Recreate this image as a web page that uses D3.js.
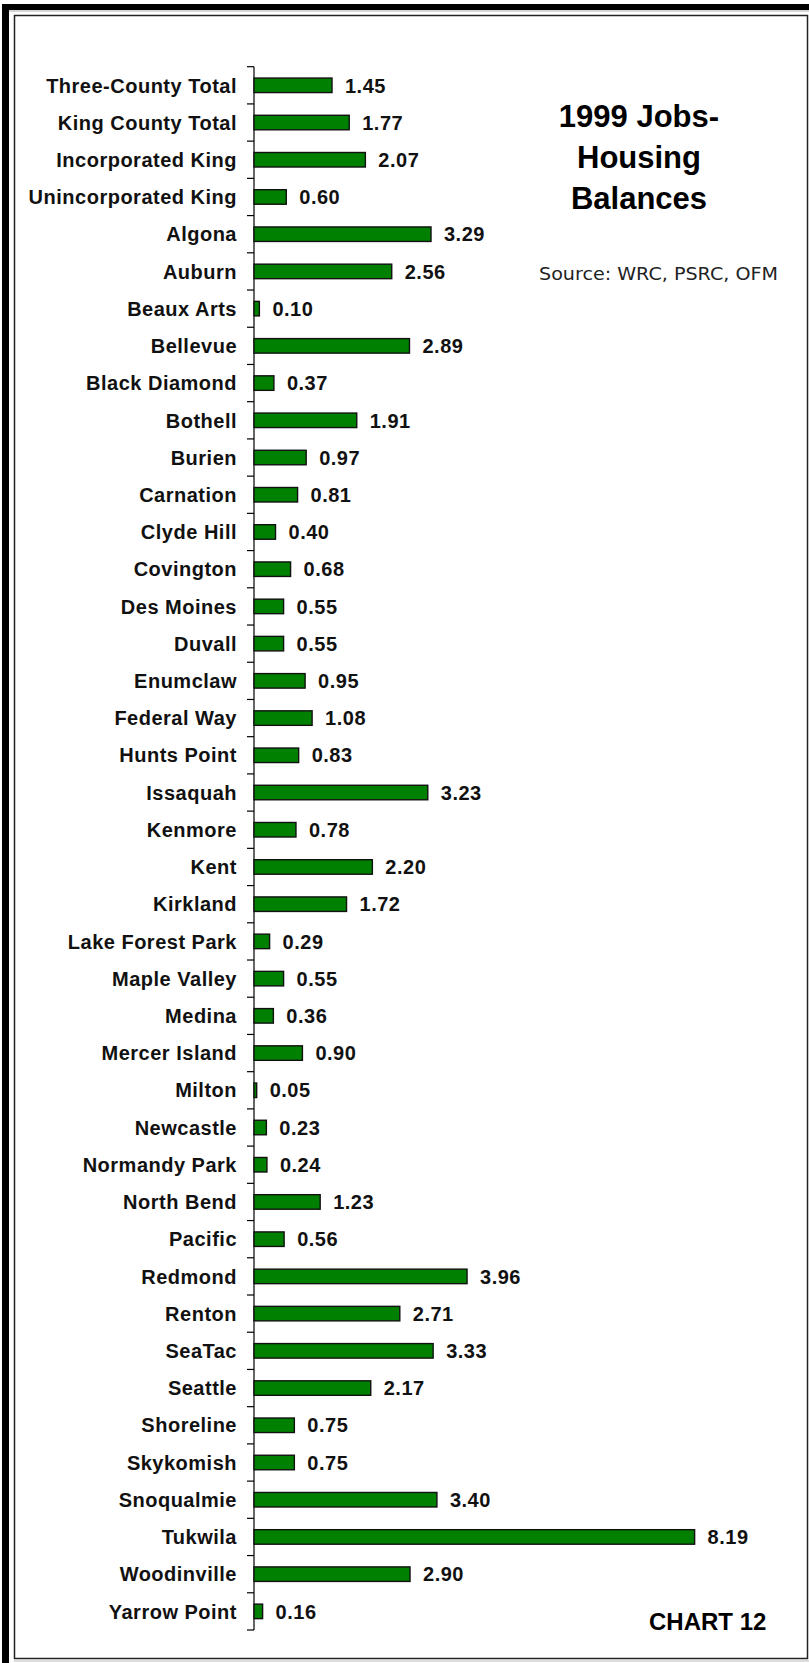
<!DOCTYPE html>
<html>
<head>
<meta charset="utf-8">
<script src="https://cdn.jsdelivr.net/npm/d3@7"></script>
<style>
  html, body { margin: 0; padding: 0; background: #fff; }
  svg { display: block; }
</style>
</head>
<body>
<script>
const categories = [
  "Three-County Total", "King County Total", "Incorporated King", "Unincorporated King",
  "Algona", "Auburn", "Beaux Arts", "Bellevue", "Black Diamond", "Bothell", "Burien",
  "Carnation", "Clyde Hill", "Covington", "Des Moines", "Duvall", "Enumclaw",
  "Federal Way", "Hunts Point", "Issaquah", "Kenmore", "Kent", "Kirkland",
  "Lake Forest Park", "Maple Valley", "Medina", "Mercer Island", "Milton", "Newcastle",
  "Normandy Park", "North Bend", "Pacific", "Redmond", "Renton", "SeaTac", "Seattle",
  "Shoreline", "Skykomish", "Snoqualmie", "Tukwila", "Woodinville", "Yarrow Point"
];
const values = [
  1.45, 1.77, 2.07, 0.60,
  3.29, 2.56, 0.10, 2.89, 0.37, 1.91, 0.97,
  0.81, 0.40, 0.68, 0.55, 0.55, 0.95,
  1.08, 0.83, 3.23, 0.78, 2.20, 1.72,
  0.29, 0.55, 0.36, 0.90, 0.05, 0.23,
  0.24, 1.23, 0.56, 3.96, 2.71, 3.33, 2.17,
  0.75, 0.75, 3.40, 8.19, 2.90, 0.16
];
const titleLines = ["1999 Jobs-", "Housing", "Balances"];
const sourceText = "Source: WRC, PSRC, OFM";
const chartLabel = "CHART 12";

const W = 809, H = 1663;
const data = categories.map((c, i) => ({ name: c, value: values[i] }));

const svg = d3.select("body").append("svg")
  .attr("width", W).attr("height", H);

// frame
svg.append("rect").attr("x", 0).attr("y", 0).attr("width", W).attr("height", H).attr("fill", "#fff");
svg.append("rect").attr("x", 2).attr("y", 4).attr("width", W - 2).attr("height", 6).attr("fill", "#000");
svg.append("rect").attr("x", 2).attr("y", 4).attr("width", 7).attr("height", H - 4).attr("fill", "#000");
svg.append("line").attr("x1", 9).attr("x2", W).attr("y1", 11).attr("y2", 11).attr("stroke", "#aaa").attr("stroke-width", 1);
svg.append("rect").attr("x", 14.5).attr("y", 15.5).attr("width", 793).attr("height", 1643)
  .attr("fill", "none").attr("stroke", "#222").attr("stroke-width", 1.5);
svg.append("line").attr("x1", 14).attr("x2", W).attr("y1", 1661).attr("y2", 1661).attr("stroke", "#bbb").attr("stroke-width", 1);

const axisX = 254;
const x = d3.scaleLinear().domain([0, 9]).range([axisX, axisX + 9 * 53.8]);
const y = d3.scaleBand().domain(categories).range([66.7, 1630]).paddingInner(0.61).paddingOuter(0.305);

const font = "'Liberation Sans', Arial, Helvetica, sans-serif";

// axis
const bandStep = y.step();
const axisG = svg.append("g");
axisG.append("line").attr("x1", axisX).attr("x2", axisX).attr("y1", 66.7).attr("y2", 1630)
  .attr("stroke", "#000").attr("stroke-width", 1.2);
const boundaries = d3.range(categories.length + 1).map(i => 66.7 + i * (1630 - 66.7) / categories.length);
axisG.selectAll("line.tick").data(boundaries).join("line").attr("class", "tick")
  .attr("x1", axisX - 7).attr("x2", axisX).attr("y1", d => d).attr("y2", d => d)
  .attr("stroke", "#000").attr("stroke-width", 1.2);

// bars
svg.append("g").selectAll("rect").data(data).join("rect")
  .attr("x", x(0))
  .attr("y", d => y(d.name))
  .attr("width", d => x(d.value) - x(0))
  .attr("height", y.bandwidth())
  .attr("fill", "#008000")
  .attr("stroke", "#111")
  .attr("stroke-width", 1.4);

// category labels
svg.append("g").selectAll("text").data(data).join("text")
  .attr("x", 237)
  .attr("y", d => y(d.name) + y.bandwidth() / 2)
  .attr("dy", "0.36em")
  .attr("text-anchor", "end")
  .attr("font-family", font).attr("font-weight", "bold").attr("font-size", 20)
  .attr("letter-spacing", 0.5)
  .attr("fill", "#111")
  .text(d => d.name);

// value labels
const fmt = d3.format(".2f");
svg.append("g").selectAll("text").data(data).join("text")
  .attr("x", d => x(d.value) + 13)
  .attr("y", d => y(d.name) + y.bandwidth() / 2)
  .attr("dy", "0.36em")
  .attr("font-family", font).attr("font-weight", "bold").attr("font-size", 20)
  .attr("letter-spacing", 0.5)
  .attr("fill", "#111")
  .text(d => fmt(d.value));

// title
svg.append("g").selectAll("text").data(titleLines).join("text")
  .attr("x", 639)
  .attr("y", (d, i) => 127 + i * 40.8)
  .attr("text-anchor", "middle")
  .attr("font-family", font).attr("font-weight", "bold").attr("font-size", 31)
  .attr("fill", "#000")
  .text(d => d);

// source
svg.append("text")
  .attr("x", 539).attr("y", 280)
  .attr("font-family", "'DejaVu Sans', sans-serif").attr("font-size", 17)
  .attr("textLength", 239).attr("lengthAdjust", "spacingAndGlyphs")
  .attr("fill", "#222")
  .text(sourceText);

// chart label
svg.append("text")
  .attr("x", 649).attr("y", 1630)
  .attr("font-family", font).attr("font-weight", "bold").attr("font-size", 24)
  .attr("fill", "#000")
  .text(chartLabel);
</script>
</body>
</html>
